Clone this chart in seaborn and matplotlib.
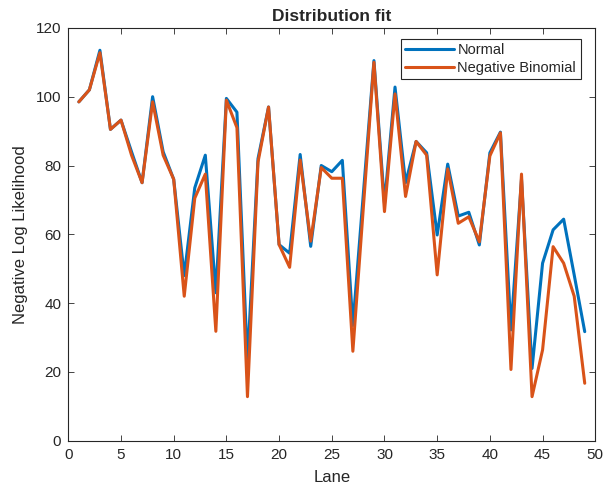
import numpy as np
import pandas as pd
import matplotlib
matplotlib.use('Agg')
import matplotlib.pyplot as plt
import seaborn as sns

# DATA

lanes = list(range(1, 50))

normal = [98.5, 102, 113.5, 90.5, 93.2, 84, 75, 100, 84, 76,
          48, 73.5, 83, 43, 99.5, 95.5, 23, 82, 97, 57,
          54.5, 83.2, 56.5, 80, 78.2, 81.5, 33.5, 72, 110.5, 69,
          102.8, 75, 87, 83.7, 59.8, 80.4, 65.3, 66.4, 56.9, 83.7,
          89.7, 32.2, 76, 21, 51.6, 61.3, 64.4, 48.2, 31.7]

neg_binomial = [98.5, 102, 112.8, 90.5, 93.2, 83, 75, 98.5, 83, 76,
                42, 70.5, 77.5, 31.8, 99, 91, 12.8, 81, 97, 57,
                50.4, 81.6, 58, 79.4, 76.3, 76.3, 26, 68, 110, 66.6,
                100.8, 71, 87, 83, 48.2, 79, 63.2, 65.1, 57.8, 82.8,
                89.5, 20.7, 77.5, 12.8, 26.4, 56.4, 51.6, 42, 16.7]

series_names = ['Normal', 'Negative Binomial']

# build long table for seaborn
df = pd.DataFrame({
    'Lane': lanes * 2,
    'nll': normal + neg_binomial,
    'fit': [series_names[0]] * len(lanes) + [series_names[1]] * len(lanes),
})

# plot settings
sns.set_style('white')
plt.rcParams['font.family'] = ['Liberation Sans', 'DejaVu Sans']

fig = plt.figure(figsize=(6.06, 4.93), dpi=100)
ax = fig.add_axes([0.1127, 0.1061, 0.8696, 0.8373])

sns.lineplot(data=df, x='Lane', y='nll', hue='fit', hue_order=series_names,
             palette=['#0072BD', '#D95319'], linewidth=2.2, ax=ax)

# axis settings, matlab look
ax.set_xlim(0, 50)
ax.set_ylim(0, 120)
ax.set_xticks(np.arange(0, 51, 5))
ax.set_yticks(np.arange(0, 121, 20))
ax.tick_params(direction='in', length=4, width=0.6, colors='#262626',
               labelsize=11, pad=5, top=True, right=True, bottom=True, left=True)
for side in ax.spines.values():
    side.set_color('#262626')
    side.set_linewidth(0.8)

ax.set_xlabel('Lane', fontsize=12, color='#262626', labelpad=6)
ax.set_ylabel('Negative Log Likelihood', fontsize=12, color='#262626', labelpad=6)
ax.set_title('Distribution fit', fontsize=12.5, fontweight='bold', pad=5)

leg = ax.legend(loc='upper right', bbox_to_anchor=(0.972, 0.974),
                borderaxespad=0, fontsize=10.5, handlelength=3.4,
                handletextpad=0.2, fancybox=False, framealpha=1,
                borderpad=0.3, labelspacing=0.25)
leg.get_frame().set_edgecolor('#262626')
leg.get_frame().set_linewidth(0.8)

fig.savefig('out.png', dpi=100)
